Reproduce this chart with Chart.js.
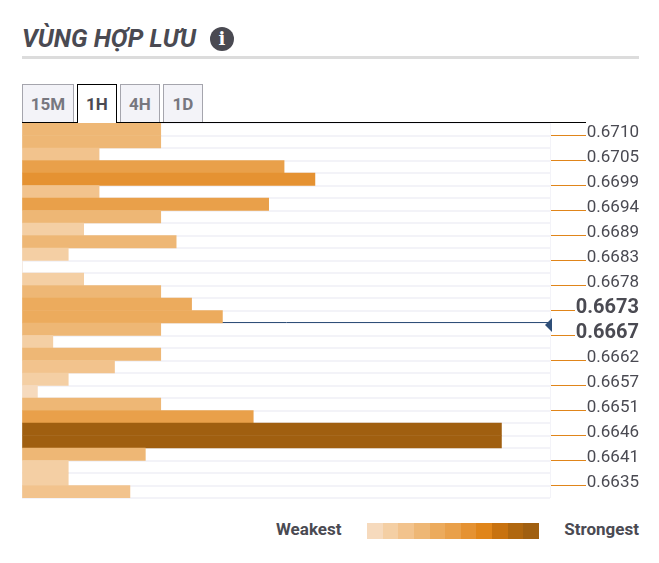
<!DOCTYPE html>
<html>
<head>
<meta charset="utf-8">
<script src="https://cdn.jsdelivr.net/npm/chart.js@4"></script>
<style>
  html, body { margin: 0; padding: 0; background: #fff; }
  body { width: 659px; height: 563px; position: relative; overflow: hidden; font-family: Roboto, sans-serif; color: #4a4a52; }
  .title { position: absolute; left: 22px; top: 24px; font-size: 25px; line-height: 30px; font-weight: 700; font-style: italic; white-space: nowrap; }
  .info { position: absolute; left: 210px; top: 27px; width: 24px; height: 24px; border-radius: 50%; background: #4a4a52; color: #fff; font: 700 18px/24px "DejaVu Serif", serif; text-align: center; }
  .rule { position: absolute; left: 22px; top: 56px; width: 617px; height: 3px; background: #dcdcdc; }
  .tab { position: absolute; top: 84px; height: 37px; box-sizing: content-box; border: 1px solid #a5a5ad; border-bottom: 0; background: #f3f3f8; color: #77777f; font-size: 17px; font-weight: 700; line-height: 38px; text-align: center; }
  .tab.active { background: #fff; border-color: #000; color: #4a4a52; height: 38px; z-index: 2; }
  .baseline { position: absolute; left: 22px; top: 122px; width: 564px; height: 1px; background: #000; z-index: 1; }
  #chart { position: absolute; left: 0; top: 118px; }
  .legend-label { position: absolute; top: 519px; font-size: 17px; line-height: 20px; font-weight: 700; }
  #swatches { position: absolute; left: 367px; top: 523px; width: 172px; height: 16px; display: flex; }
  #swatches div { flex: 1; }
</style>
</head>
<body>
<div class="title">VÙNG HỢP LƯU</div>
<div class="info">i</div>
<div class="rule"></div>
<div class="tab" style="left:22px;width:50px">15M</div>
<div class="tab active" style="left:77px;width:38px">1H</div>
<div class="tab" style="left:120px;width:38px">4H</div>
<div class="tab" style="left:163px;width:38px">1D</div>
<div class="baseline"></div>
<canvas id="chart" width="659" height="385"></canvas>
<div class="legend-label" style="left:276px">Weakest</div>
<div id="swatches"></div>
<div class="legend-label" style="right:20px">Strongest</div>
<script>
// two half rows per price level, top to bottom
const rowValues = [
  9, 9, 5, 17, 19, 5, 16, 9, 4, 10,
  3, 0, 4, 9, 11, 13, 9, 2, 9, 6,
  3, 1, 9, 15, 31.1, 31.1, 8, 3, 3, 7,
];
const priceLabels = [
  '0.6710', '0.6705', '0.6699', '0.6694', '0.6689',
  '0.6683', '0.6678', '0.6673', '0.6667', '0.6662',
  '0.6657', '0.6651', '0.6646', '0.6641', '0.6635',
];
const boldLabels = ['0.6673', '0.6667'];
const shades = [
  '#f6dabd', '#f4cfa4', '#f2c38d', '#eeb775', '#ecab5d', '#e9a04a',
  '#e59232', '#e0851a', '#c8720f', '#b0670f', '#a05f10',
];
const strongest = 31.1;
const axisMax = 34.25;
const currentRowEdge = 16; // price marker sits on this row boundary

const shadeFor = (v) => shades[Math.round((v / strongest) * 10)];

document.getElementById('swatches').innerHTML = shades
  .map((c) => `<div style="background:${c}"></div>`)
  .join('');

// leader lines, current price line and marker
const priceMarks = {
  id: 'priceMarks',
  beforeDatasetsDraw(chart) {
    const { ctx, chartArea, scales } = chart;
    const y = scales.price.getPixelForValue(currentRowEdge);
    ctx.save();
    ctx.strokeStyle = '#2f4f78';
    ctx.lineWidth = 1;
    ctx.beginPath();
    ctx.moveTo(chartArea.left + 1, y - 0.5);
    ctx.lineTo(chartArea.right, y - 0.5);
    ctx.stroke();
    ctx.restore();
  },
  afterDraw(chart) {
    const { ctx, chartArea, scales } = chart;
    ctx.save();
    ctx.strokeStyle = '#e0851a';
    ctx.lineWidth = 1;
    priceLabels.forEach((label, i) => {
      const y = Math.floor(scales.price.getPixelForValue(i * 2 + 1)) + 0.5;
      ctx.beginPath();
      ctx.moveTo(chartArea.right + 1, y);
      ctx.lineTo(boldLabels.includes(label) ? 575 : 586, y);
      ctx.stroke();
    });
    const y = scales.price.getPixelForValue(currentRowEdge);
    ctx.fillStyle = '#2f4f78';
    ctx.beginPath();
    ctx.moveTo(chartArea.right - 5, y + 2);
    ctx.lineTo(chartArea.right + 2, y - 5);
    ctx.lineTo(chartArea.right + 2, y + 9);
    ctx.closePath();
    ctx.fill();
    ctx.restore();
  },
};

new Chart(document.getElementById('chart'), {
  type: 'bar',
  data: {
    labels: rowValues.map((v, i) => i),
    datasets: [{
      data: rowValues,
      backgroundColor: rowValues.map(shadeFor),
      barPercentage: 1,
      categoryPercentage: 1,
      borderWidth: 0,
    }],
  },
  options: {
    indexAxis: 'y',
    responsive: false,
    animation: false,
    layout: { padding: { left: 22, right: 20, top: 5, bottom: 5 } },
    plugins: { legend: { display: false }, tooltip: { enabled: false } },
    scales: {
      x: {
        min: 0,
        max: axisMax,
        grid: { color: '#f3f3f8', lineWidth: 1, drawTicks: false },
        border: { display: false },
        ticks: { display: false },
        afterBuildTicks: (scale) => { scale.ticks = [{ value: 0 }, { value: axisMax }]; },
        afterFit: (scale) => { scale.height = 0; },
      },
      y: {
        offset: true,
        grid: { offset: true, color: '#f3f3f8', lineWidth: 2, drawTicks: false },
        border: { display: false },
        ticks: { display: false },
        afterFit: (scale) => { scale.width = 0; },
      },
      // labels sit slightly above their leader line
      price: {
        type: 'linear',
        position: 'right',
        reverse: true,
        offset: false,
        min: 0,
        max: 30,
        grid: { display: false, drawTicks: false },
        border: { display: false },
        afterBuildTicks: (scale) => {
          scale.ticks = priceLabels.map((label, i) => ({ value: i * 2 + 0.8 }));
        },
        afterFit: (scale) => {
          scale.width = 89;
          scale.paddingTop = 0;
          scale.paddingBottom = 0;
        },
        ticks: {
          autoSkip: false,
          padding: 0,
          align: 'center',
          crossAlign: 'far',
          color: '#4a4a52',
          callback: (value, i) => priceLabels[i],
          font: (ctx) => boldLabels.includes(priceLabels[ctx.index])
            ? { family: 'Roboto', size: 20, weight: '700' }
            : { family: 'Roboto', size: 17 },
        },
      },
    },
  },
  plugins: [priceMarks],
});
</script>
</body>
</html>
